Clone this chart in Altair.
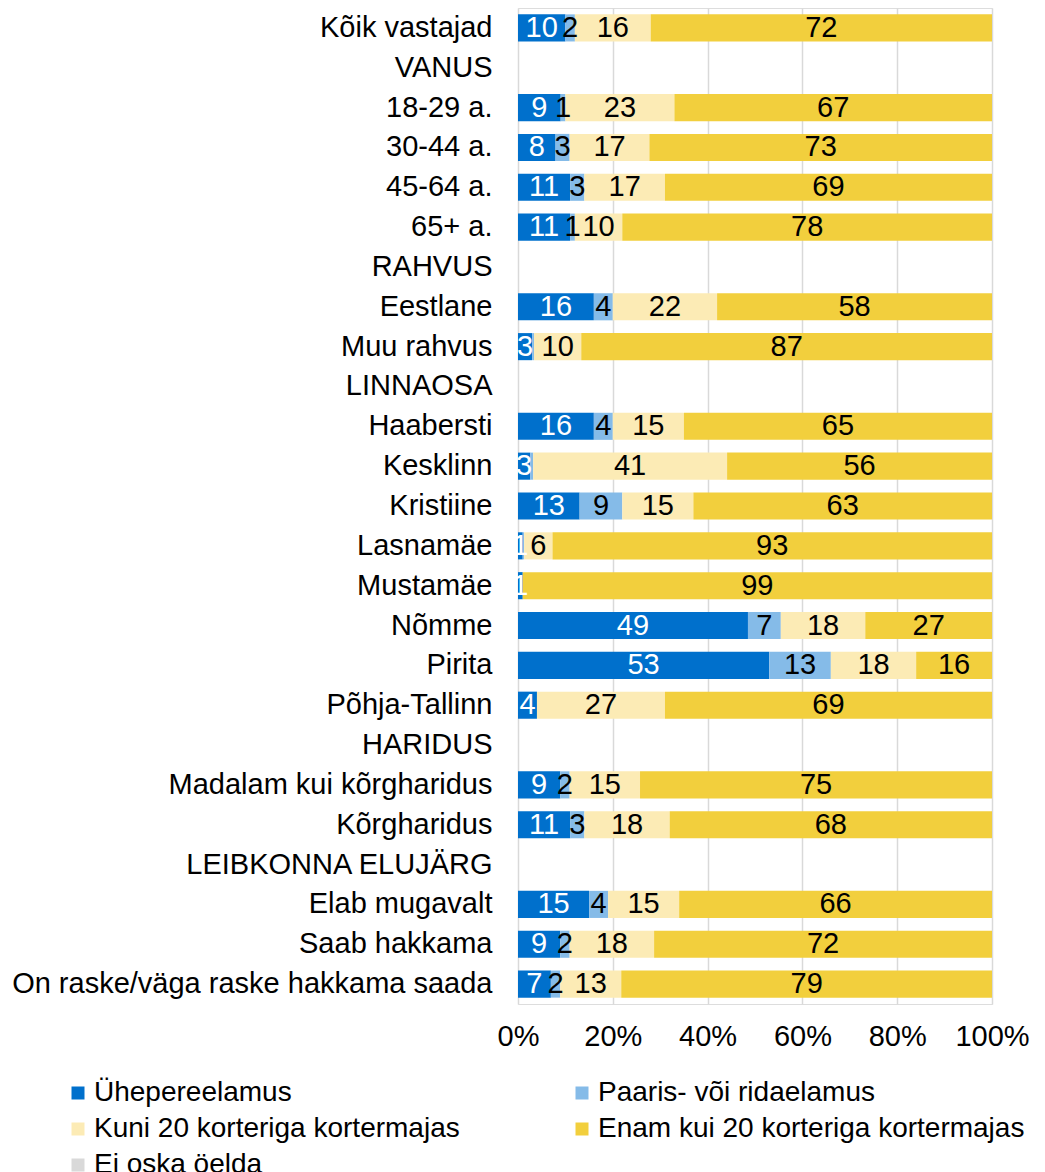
import altair as alt
import pandas as pd

categories = ["Kõik vastajad", "VANUS", "18-29 a.", "30-44 a.", "45-64 a.", "65+ a.",
              "RAHVUS", "Eestlane", "Muu rahvus", "LINNAOSA", "Haabersti", "Kesklinn",
              "Kristiine", "Lasnamäe", "Mustamäe", "Nõmme", "Pirita", "Põhja-Tallinn",
              "HARIDUS", "Madalam kui kõrgharidus", "Kõrgharidus", "LEIBKONNA ELUJÄRG",
              "Elab mugavalt", "Saab hakkama", "On raske/väga raske hakkama saada"]

series = ["Ühepereelamus", "Paaris- või ridaelamus", "Kuni 20 korteriga kortermajas",
          "Enam kui 20 korteriga kortermajas", "Ei oska öelda"]
colors = ["#0070CC", "#85BBE8", "#FCEBB5", "#F2CF3D", "#D9D9D9"]

uhepere = [10, None, 9, 8, 11, 11, None, 16, 3, None, 16, 2.6, 13, 1, 1, 49, 53, 4, None, 9, 11, None, 15, 9, 7]
paaris = [2, None, 1, 3, 3, 1, None, 4, 0.4, None, 4, 0.6, 9, 0.3, 0, 7, 13, 0, None, 2, 3, None, 4, 2, 2]
kuni20 = [16, None, 23, 17, 17, 10, None, 22, 10, None, 15, 41, 15, 6, 0, 18, 18, 27, None, 15, 18, None, 15, 18, 13]
enam20 = [72, None, 67, 73, 69, 78, None, 58, 87, None, 65, 56, 63, 93, 99, 27, 16, 69, None, 75, 68, None, 66, 72, 79]

rows = []
for si, vals in enumerate([uhepere, paaris, kuni20, enam20]):
    for cat, v in zip(categories, vals):
        if v is None or v == 0:
            continue
        rows.append({"cat": cat, "series": series[si], "order": si, "value": v})
df = pd.DataFrame(rows)

FONT = "Liberation Sans"
FS = 29

base = alt.Chart(df).transform_stack(
    stack="value", groupby=["cat"], as_=["x0", "x1"], offset="normalize",
    sort=[alt.SortField("order", order="ascending")]
).transform_calculate(mid="(datum.x0 + datum.x1) / 2")

yenc = alt.Y("cat:N", sort=categories,
             scale=alt.Scale(domain=categories, paddingInner=0.32, paddingOuter=0.16),
             axis=alt.Axis(title=None, domain=False, ticks=False, grid=False,
                           labelFontSize=FS, labelFont=FONT, labelColor="#000000",
                           labelPadding=26, labelLimit=700))

bars = base.mark_bar().encode(
    y=yenc,
    x=alt.X("x0:Q", scale=alt.Scale(domain=[0, 1]),
            axis=alt.Axis(title=None, format=".0%", values=[0, 0.2, 0.4, 0.6, 0.8, 1.0],
                          domain=False, ticks=False, grid=True, gridColor="#D9D9D9",
                          gridWidth=1.5, labelFontSize=FS, labelFont=FONT,
                          labelColor="#000000", labelPadding=18, labelFlush=False)),
    x2="x1:Q",
    color=alt.Color("series:N", scale=alt.Scale(domain=series, range=colors),
                    legend=alt.Legend(title=None, orient="none", legendX=-454, legendY=1071,
                                      columns=2, direction="horizontal",
                                      symbolType="square", symbolSize=169,
                                      symbolStrokeWidth=0, labelFontSize=28,
                                      labelFont=FONT, labelColor="#000000",
                                      labelOffset=2, labelLimit=700, rowPadding=8,
                                      columnPadding=108, padding=0)),
    order=alt.Order("order:Q"),
)

labels = base.transform_filter("datum.value >= 0.95").mark_text(
    fontSize=FS, font=FONT, baseline="middle", align="center"
).encode(
    y=alt.Y("cat:N", sort=categories),
    x=alt.X("mid:Q"),
    text=alt.Text("value:Q", format=".0f"),
    color=alt.condition("datum.series == 'Ühepereelamus'", alt.value("#FFFFFF"), alt.value("#000000")),
)

chart = alt.layer(bars, labels).properties(
    width=474, height=996,
    autosize=alt.AutoSizeParams(type="none"),
    padding={"left": 510, "top": 0, "right": 45, "bottom": 168},
).configure_view(stroke=None).configure(background="white")

chart.save("out.html", embed_options={"renderer": "svg", "actions": False})
